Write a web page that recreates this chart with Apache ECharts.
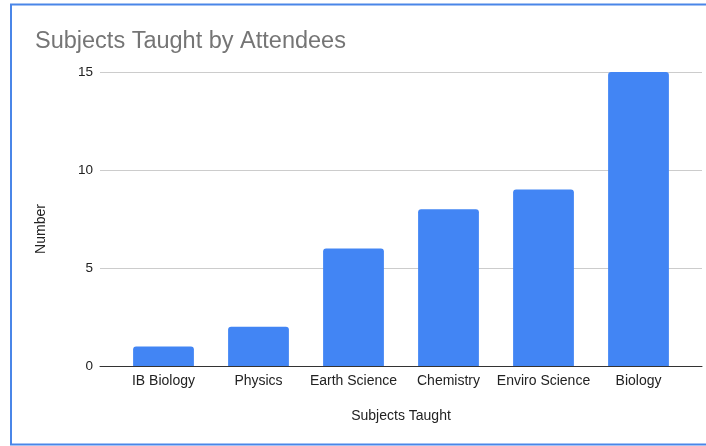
<!DOCTYPE html>
<html>
<head>
<meta charset="utf-8">
<script src="https://cdn.jsdelivr.net/npm/echarts@6/dist/echarts.min.js"></script>
<style>html,body{margin:0;padding:0;background:#fff}#c{width:706px;height:446px}</style>
</head>
<body>
<div id="c"></div>
<script>
var categories = ["IB Biology", "Physics", "Earth Science", "Chemistry", "Enviro Science", "Biology"];
var values = [1, 2, 6, 8, 9, 15];
var yTicks = [0, 5, 10, 15];

var FONT = 'Liberation Sans, Arial, sans-serif';
var chart = echarts.init(document.getElementById('c'), null, {renderer: 'canvas'});
chart.setOption({
  animation: false,
  backgroundColor: '#ffffff',
  textStyle: {fontFamily: FONT},
  title: {
    text: 'Subjects Taught by Attendees',
    left: 30, top: 25,
    textStyle: {fontSize: 23.5, fontWeight: 'normal', color: '#757575', fontFamily: FONT}
  },
  graphic: [{
    type: 'rect', silent: true, z: 100,
    shape: {x: 11, y: 4.5, width: 710, height: 440},
    style: {fill: 'none', stroke: '#4a86e8', lineWidth: 2}
  }],
  grid: [
    {left: 100, right: 4, top: 72, bottom: 80},
    {left: 116, right: 20, top: 72, bottom: 80}
  ],
  xAxis: [{
    gridIndex: 0,
    type: 'value', min: 0, max: 1,
    axisLabel: {show: false},
    axisTick: {show: false},
    splitLine: {show: false},
    axisLine: {show: true, lineStyle: {color: '#333', width: 1}},
    name: 'Subjects Taught',
    nameLocation: 'middle',
    nameGap: 43,
    nameTextStyle: {fontSize: 14, color: '#222'}
  }, {
    gridIndex: 1,
    type: 'category',
    data: categories,
    axisTick: {show: false},
    axisLine: {show: false},
    axisLabel: {fontSize: 14, color: '#222', margin: 8, interval: 0}
  }],
  yAxis: [{
    gridIndex: 0,
    type: 'value',
    min: yTicks[0], max: yTicks[yTicks.length - 1], interval: 5,
    name: 'Number',
    nameLocation: 'middle',
    nameGap: 52,
    nameRotate: 90,
    nameTextStyle: {fontSize: 14, color: '#222', padding: [0, 20, 0, 0]},
    axisLine: {show: false},
    axisTick: {show: false},
    axisLabel: {fontSize: 13.5, color: '#222', margin: 7},
    splitLine: {lineStyle: {color: '#cccccc', width: 1}}
  }, {
    gridIndex: 1,
    type: 'value',
    min: yTicks[0], max: yTicks[yTicks.length - 1], interval: 5,
    show: false,
    splitLine: {show: false}
  }],
  series: [{
    type: 'bar',
    xAxisIndex: 1, yAxisIndex: 1,
    data: values,
    barWidth: '64%',
    itemStyle: {color: '#4285f4', borderRadius: [3, 3, 0, 0]}
  }]
});
</script>
</body>
</html>
